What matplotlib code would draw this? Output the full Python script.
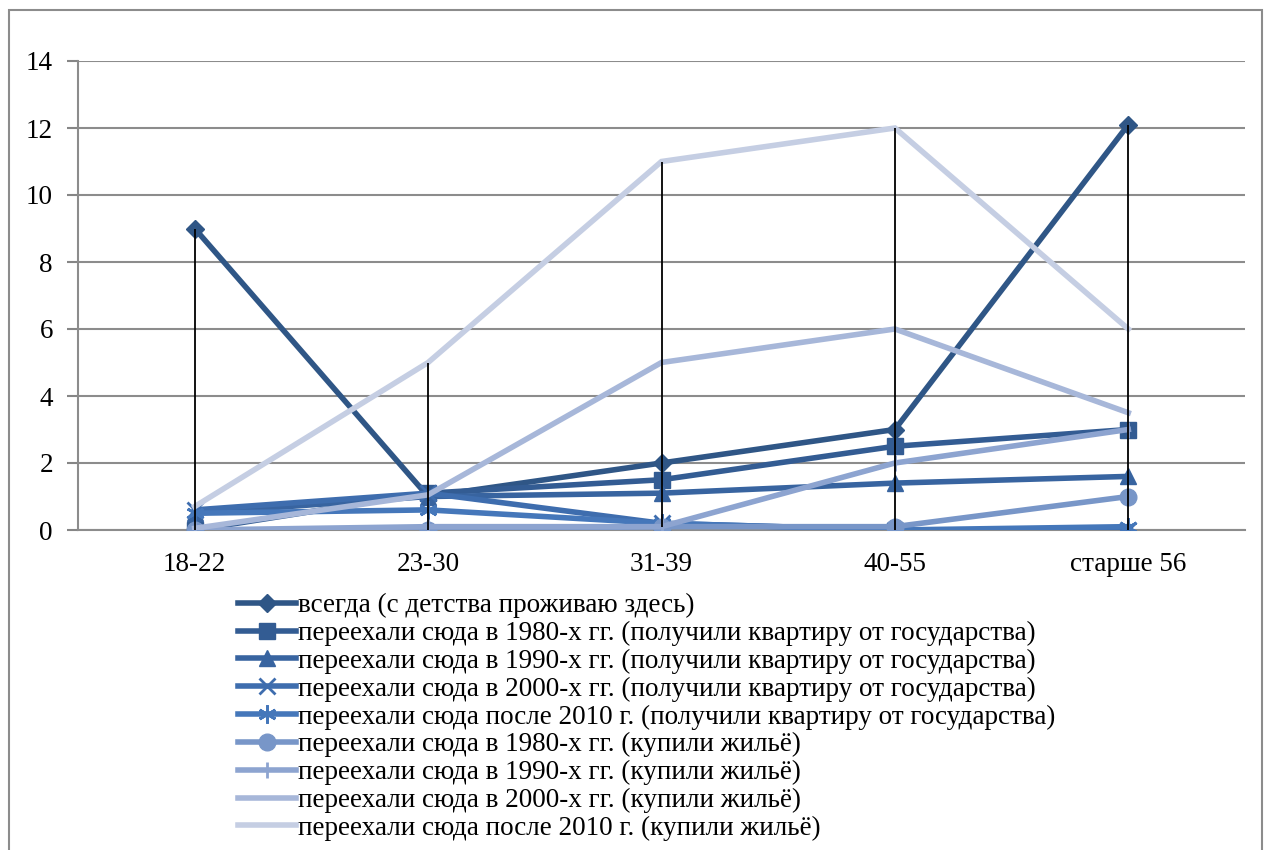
import matplotlib
matplotlib.use("Agg")
import matplotlib.pyplot as plt
from matplotlib.patches import Rectangle
import numpy as np

plt.rcParams['font.family'] = ['Liberation Serif', 'DejaVu Serif']

categories = ["18-22", "23-30", "31-39", "40-55", "старше 56"]

labels = [
    "всегда (с детства проживаю здесь)",
    "переехали сюда в 1980-х гг. (получили квартиру от государства)",
    "переехали сюда в 1990-х гг. (получили квартиру от государства)",
    "переехали сюда в 2000-х гг. (получили квартиру от государства)",
    "переехали сюда после 2010 г. (получили квартиру от государства)",
    "переехали сюда в 1980-х гг. (купили жильё)",
    "переехали сюда в 1990-х гг. (купили жильё)",
    "переехали сюда в 2000-х гг. (купили жильё)",
    "переехали сюда после 2010 г. (купили жильё)",
]

always = [9, 1, 2, 3, 12.1]
gov_1980 = [0, 1.1, 1.5, 2.5, 3]
gov_1990 = [0.5, 1.0, 1.1, 1.4, 1.6]
gov_2000 = [0.6, 1.1, 0.2, 0, 0]
gov_2010 = [0.5, 0.6, 0.2, 0, 0.1]
buy_1980 = [0, 0, 0.1, 0.1, 1]
buy_1990 = [0, 0.1, 0.1, 2, 3]
buy_2000 = [0.05, 1.05, 5, 6, 3.5]
buy_2010 = [0.7, 5, 11, 12, 6]

series = [always, gov_1980, gov_1990, gov_2000, gov_2010,
          buy_1980, buy_1990, buy_2000, buy_2010]
colors = ["#2F5686", "#335C93", "#3864A0", "#3E6DAE", "#4577BA",
          "#7896C8", "#8DA4D0", "#A7B7D9", "#C5CEE3"]
markers = ["D", "s", "^", "x", (6, 2, 0), "o", "|", "", ""]
msizes = [9, 11, 11, 11, 13, 12, 12, 0, 0]

fig = plt.figure(figsize=(12.64, 8.5), dpi=100)
ax = fig.add_axes([78/1264, 1-530/850, (1245-78)/1264, (530-61)/850])

x = np.arange(len(categories))
arr = np.array(series)
hi = arr.max(axis=0)
lo = arr.min(axis=0)

handles = []
for s, c, m, ms, lab in zip(series, colors, markers, msizes, labels):
    thin = m in ("x", "|") or isinstance(m, tuple)
    h, = ax.plot(x, s, color=c, lw=4, marker=m if m != "" else None,
                 markersize=ms, markeredgewidth=2 if thin else 1,
                 markeredgecolor=c, markerfacecolor=c, label=lab,
                 solid_joinstyle="miter", zorder=3)
    handles.append(h)

ax.vlines(x, lo, hi, color="black", lw=1.3, zorder=4)

ax.set_xlim(-0.5, len(categories) - 0.5)
ax.set_ylim(0, 14)
ax.set_yticks(np.arange(0, 15, 2))
ax.set_xticks(x)
ax.set_xticklabels(categories)
ax.tick_params(axis="x", length=0, pad=16, labelsize=19.5)
ax.tick_params(axis="y", length=8, color="#868686", width=1.5, pad=10, labelsize=19.5)
ax.grid(axis="y", color="#8C8C8C", lw=1.5)
ax.set_axisbelow(True)
for sp in ["top", "right"]:
    ax.spines[sp].set_visible(False)
for sp in ["left", "bottom"]:
    ax.spines[sp].set_color("#8C8C8C")
    ax.spines[sp].set_linewidth(1.5)

fig.legend(handles=handles, loc="upper left", bbox_to_anchor=(238/1264, 1-593/850),
           frameon=False, fontsize=19.5, handlelength=2.15, handletextpad=0.05,
           labelspacing=0.1, borderaxespad=0, borderpad=0)

fig.patches.append(Rectangle((9/1264, -0.02), (1262-9)/1264, 1-10/850+0.02,
                             transform=fig.transFigure, fill=False,
                             edgecolor="#8C8C8C", lw=1.5))

fig.savefig("out.png", dpi=100)
